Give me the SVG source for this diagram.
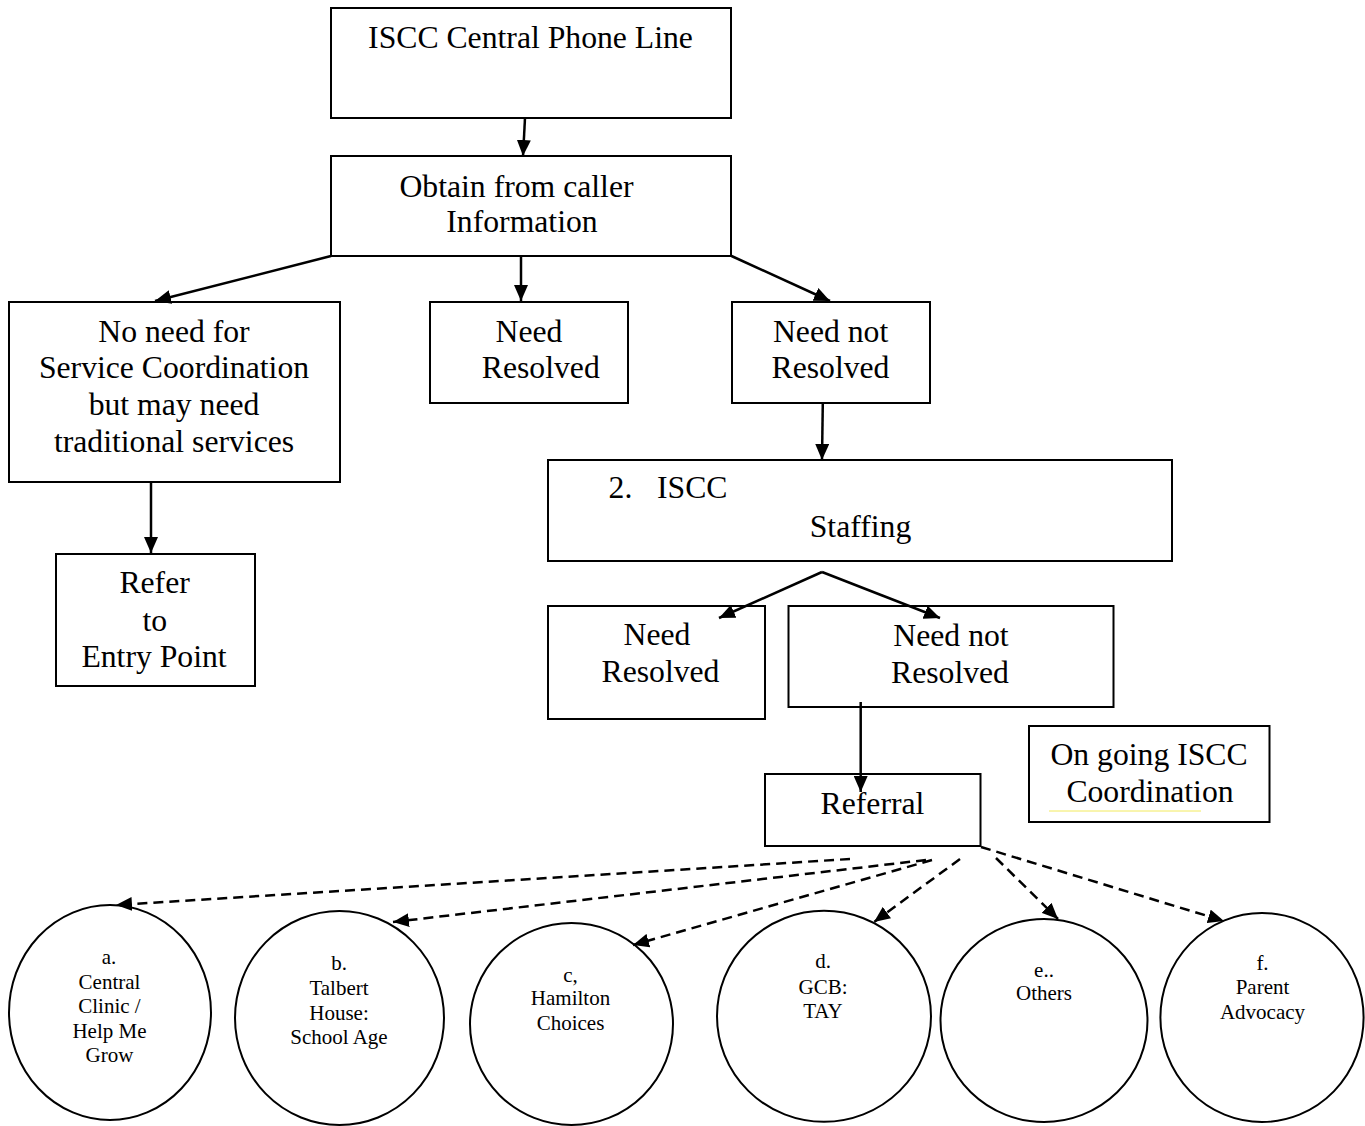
<svg xmlns="http://www.w3.org/2000/svg" width="1365" height="1126" viewBox="0 0 1365 1126">
<style>
.box{fill:#fff;stroke:#000;stroke-width:2}
.ell{fill:#fff;stroke:#000;stroke-width:2}
.t{font-family:"Liberation Serif","Times New Roman",serif;font-size:31.7px;fill:#000;text-anchor:middle}
.s{font-family:"Liberation Serif","Times New Roman",serif;font-size:21px;fill:#000;text-anchor:middle}
.c{fill:none;stroke:#000;stroke-width:2.5}
.d{fill:none;stroke:#000;stroke-width:2.5;stroke-dasharray:10,6}
</style>
<defs>
<marker id="ah" viewBox="0 0 16 14" refX="16" refY="7" markerWidth="16" markerHeight="14" markerUnits="userSpaceOnUse" orient="auto"><path d="M0,0 L16,7 L0,14 z" fill="#000" stroke="none"/></marker>
</defs>
<rect width="1365" height="1126" fill="#fff"/>

<g id="n-phone"><rect class="box" x="331" y="8" width="400" height="110"/><text class="t" x="530.5" y="48">ISCC Central Phone Line</text></g>
<g id="n-obtain"><rect class="box" x="331" y="156" width="400" height="100"/><text class="t" x="516.5" y="196.5">Obtain from caller</text><text class="t" x="522" y="231.7">Information</text></g>
<g id="n-noneed"><rect class="box" x="9" y="302" width="331" height="180"/><text class="t" x="174" y="341.7">No need for</text><text class="t" x="174" y="378">Service Coordination</text><text class="t" x="174" y="414.5">but may need</text><text class="t" x="174" y="452">traditional services</text></g>
<g id="n-refer"><rect class="box" x="56" y="554" width="199" height="132"/><text class="t" x="154.6" y="593">Refer</text><text class="t" x="154.8" y="630.7">to</text><text class="t" x="154" y="666.7">Entry Point</text></g>
<g id="n-resolved1"><rect class="box" x="430" y="302" width="198" height="101"/><text class="t" x="529" y="341.7">Need</text><text class="t" x="540.8" y="378">Resolved</text></g>
<g id="n-notresolved1"><rect class="box" x="732" y="302" width="198" height="101"/><text class="t" x="830.6" y="341.7">Need not</text><text class="t" x="830.5" y="378">Resolved</text></g>
<g id="n-staffing"><rect class="box" x="548" y="460" width="624" height="101"/><text class="t" x="608.6" y="498.3" style="text-anchor:start">2.</text><text class="t" x="657" y="498.3" style="text-anchor:start">ISCC</text><text class="t" x="860.5" y="537">Staffing</text></g>
<g id="n-resolved2"><rect class="box" x="548" y="606" width="217" height="113"/><text class="t" x="657" y="645">Need</text><text class="t" x="660.5" y="682">Resolved</text></g>
<g id="n-notresolved2"><rect class="box" x="788.5" y="606" width="325" height="101"/><text class="t" x="951" y="646">Need not</text><text class="t" x="950" y="683">Resolved</text></g>
<g id="n-referral"><rect class="box" x="765" y="774" width="215.5" height="72"/><text class="t" x="872.5" y="814">Referral</text></g>
<g id="n-ongoing"><rect class="box" x="1029" y="726" width="240.5" height="96"/><text class="t" x="1149" y="765">On going ISCC</text><text class="t" x="1150" y="802">Coordination</text><line x1="1049" y1="811" x2="1201" y2="811" stroke="#f2ea5c" stroke-width="1"/></g>

<g id="n-a"><ellipse class="ell" cx="110" cy="1012.5" rx="101" ry="107.5"/><text class="s" x="109" y="964">a.</text><text class="s" x="109.5" y="989">Central</text><text class="s" x="109.5" y="1013">Clinic /</text><text class="s" x="109.5" y="1038">Help Me</text><text class="s" x="109.5" y="1062">Grow</text></g>
<g id="n-b"><ellipse class="ell" cx="339.5" cy="1018" rx="104.5" ry="107"/><text class="s" x="339" y="970">b.</text><text class="s" x="339" y="995">Talbert</text><text class="s" x="339" y="1020">House:</text><text class="s" x="339" y="1044">School Age</text></g>
<g id="n-c"><ellipse class="ell" cx="571.5" cy="1024" rx="101.5" ry="101"/><text class="s" x="570.5" y="982">c,</text><text class="s" x="570.5" y="1005">Hamilton</text><text class="s" x="570.5" y="1030">Choices</text></g>
<g id="n-d"><ellipse class="ell" cx="824" cy="1016.3" rx="107" ry="105.5"/><text class="s" x="823" y="968">d.</text><text class="s" x="823" y="994">GCB:</text><text class="s" x="823" y="1018">TAY</text></g>
<g id="n-e"><ellipse class="ell" cx="1044" cy="1020.5" rx="103.5" ry="101.5"/><text class="s" x="1044" y="977">e..</text><text class="s" x="1044" y="1000">Others</text></g>
<g id="n-f"><ellipse class="ell" cx="1262" cy="1017.5" rx="101.6" ry="104.5"/><text class="s" x="1262.5" y="970">f.</text><text class="s" x="1262.5" y="994">Parent</text><text class="s" x="1262.5" y="1019">Advocacy</text></g>

<g id="connectors">
<line class="c" x1="525" y1="118" x2="523" y2="156" marker-end="url(#ah)"/>
<line class="c" x1="331" y1="256" x2="155" y2="301" marker-end="url(#ah)"/>
<line class="c" x1="521" y1="256" x2="521" y2="301" marker-end="url(#ah)"/>
<line class="c" x1="731.5" y1="256" x2="830" y2="301" marker-end="url(#ah)"/>
<line class="c" x1="151" y1="482" x2="151" y2="553" marker-end="url(#ah)"/>
<line class="c" x1="822.8" y1="403" x2="822" y2="460" marker-end="url(#ah)"/>
<line class="c" x1="822" y1="572" x2="719" y2="618" marker-end="url(#ah)"/>
<line class="c" x1="822" y1="572" x2="940" y2="618" marker-end="url(#ah)"/>
<line class="c" x1="860.7" y1="702" x2="860.7" y2="792" marker-end="url(#ah)"/>
<line class="d" x1="850" y1="859" x2="116" y2="905" marker-end="url(#ah)"/>
<line class="d" x1="926" y1="860" x2="393" y2="922" marker-end="url(#ah)"/>
<line class="d" x1="932" y1="860" x2="633" y2="945" marker-end="url(#ah)"/>
<line class="d" x1="960" y1="859" x2="874" y2="922" marker-end="url(#ah)"/>
<line class="d" x1="996" y1="858" x2="1058" y2="919" marker-end="url(#ah)"/>
<line class="d" x1="981" y1="847" x2="1224" y2="921" marker-end="url(#ah)"/>
</g>
</svg>
